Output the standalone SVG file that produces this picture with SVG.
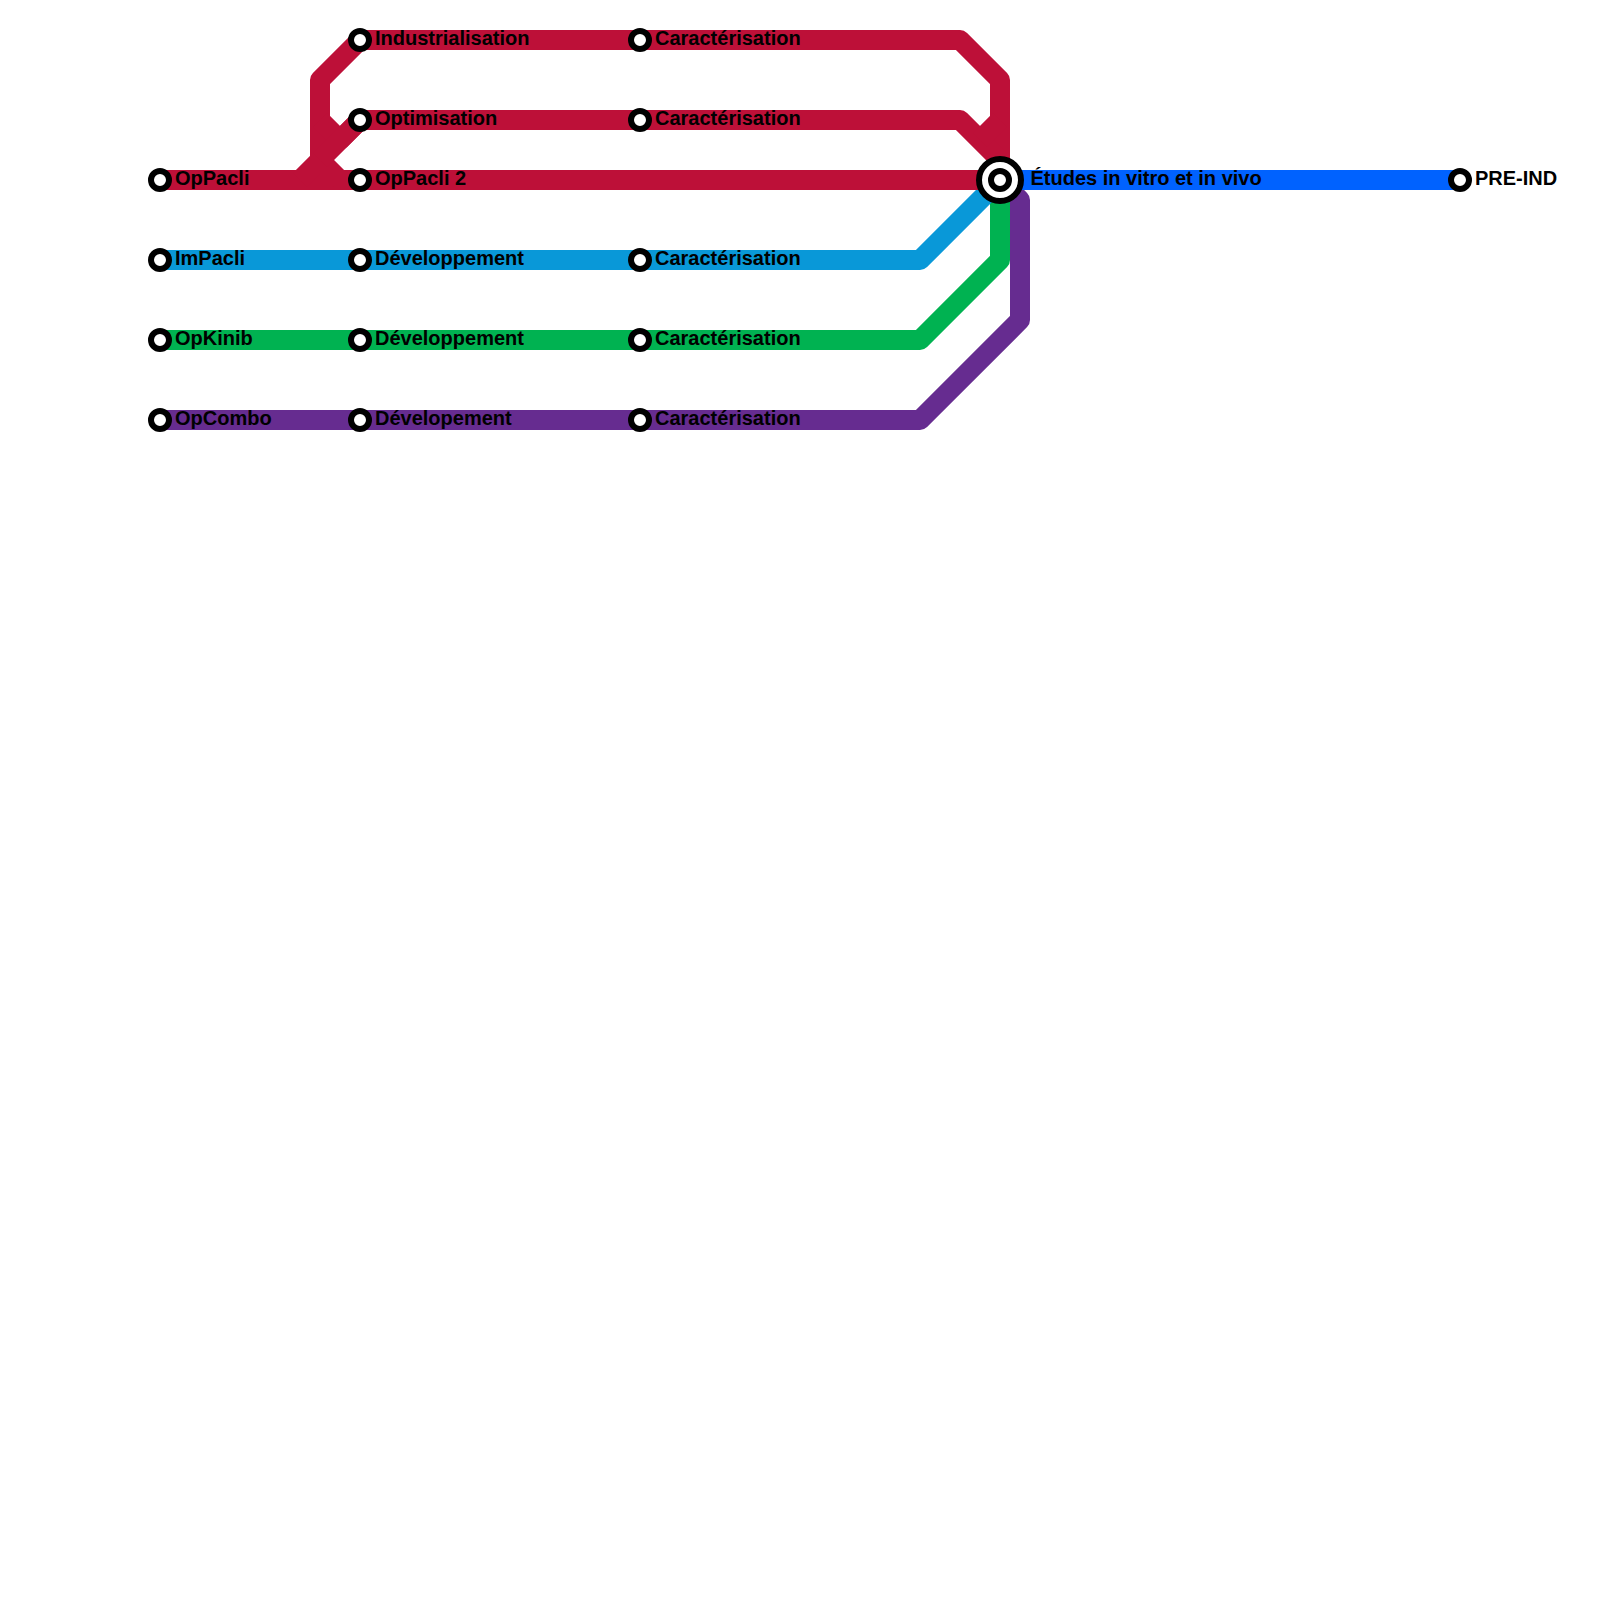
<svg xmlns="http://www.w3.org/2000/svg" width="1600" height="1600" viewBox="0 0 1600 1600">
<style>
.l{fill:none;stroke-width:20;stroke-linejoin:round;stroke-linecap:butt}
.r{stroke:#BD1038}.b{stroke:#0998D8}.g{stroke:#00B251}.p{stroke:#662C90}.d{stroke:#0062FF}
.s{fill:#fff;stroke:#000;stroke-width:6}
text{font-family:"Liberation Sans",Arial,sans-serif;font-weight:700;font-size:20px;fill:#000}
</style>
<rect width="1600" height="1600" fill="#fff"/>
<g id="connectors">
<path class="l p" d="M160 420H920L1020 320V200L1000 180"/>
<path class="l g" d="M160 340H920L1000 260V180"/>
<path class="l b" d="M160 260H920L1000 180"/>
<path class="l d" d="M1000 180H1460"/>
<path class="l r" d="M160 180H1000"/>
<path class="l r" d="M300 180L320 160V80L360 40H960L1000 80V180"/>
<path class="l r" d="M320 120L340 140L360 120H960L1000 160"/>
<path class="l r" d="M320 160L340 180"/>
<path class="l r" d="M320 160L360 120M1000 120L980 140"/>
</g>
<g id="n1"><circle class="s" cx="160" cy="180" r="9"/><text x="175" y="185">OpPacli</text></g>
<g id="n2"><circle class="s" cx="160" cy="260" r="9"/><text x="175" y="265">ImPacli</text></g>
<g id="n3"><circle class="s" cx="160" cy="340" r="9"/><text x="175" y="345">OpKinib</text></g>
<g id="n4"><circle class="s" cx="160" cy="420" r="9"/><text x="175" y="425">OpCombo</text></g>
<g id="n5"><circle class="s" cx="360" cy="40" r="9"/><text x="375" y="45">Industrialisation</text></g>
<g id="n6"><circle class="s" cx="360" cy="120" r="9"/><text x="375" y="125">Optimisation</text></g>
<g id="n7"><circle class="s" cx="360" cy="180" r="9"/><text x="375" y="185">OpPacli 2</text></g>
<g id="n8"><circle class="s" cx="360" cy="260" r="9"/><text x="375" y="265">Développement</text></g>
<g id="n9"><circle class="s" cx="360" cy="340" r="9"/><text x="375" y="345">Développement</text></g>
<g id="n10"><circle class="s" cx="360" cy="420" r="9"/><text x="375" y="425">Dévelopement</text></g>
<g id="n11"><circle class="s" cx="640" cy="40" r="9"/><text x="655" y="45">Caractérisation</text></g>
<g id="n12"><circle class="s" cx="640" cy="120" r="9"/><text x="655" y="125">Caractérisation</text></g>
<g id="n13"><circle class="s" cx="640" cy="260" r="9"/><text x="655" y="265">Caractérisation</text></g>
<g id="n14"><circle class="s" cx="640" cy="340" r="9"/><text x="655" y="345">Caractérisation</text></g>
<g id="n15"><circle class="s" cx="640" cy="420" r="9"/><text x="655" y="425">Caractérisation</text></g>
<g id="n16"><circle class="s" cx="1000" cy="180" r="21"/><circle class="s" cx="1000" cy="180" r="9"/><text x="1030.5" y="185">Études in vitro et in vivo</text></g>
<g id="n17"><circle class="s" cx="1460" cy="180" r="9"/><text x="1475" y="185">PRE-IND</text></g>
</svg>
